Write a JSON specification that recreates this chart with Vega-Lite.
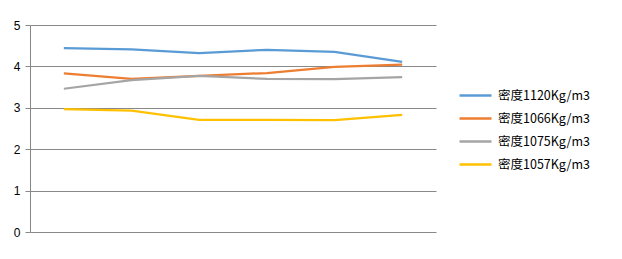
{
  "$schema": "https://vega.github.io/schema/vega-lite/v6.json",
  "autosize": {"type": "none"},
  "width": 406,
  "height": 207,
  "padding": {"left": 30, "top": 25, "right": 186, "bottom": 27},
  "background": "white",
  "config": {"view": {"stroke": null}, "font": "Liberation Sans"},
  "data": {
    "values": [
      {"p": 1, "s": "密度1120Kg/m3", "v": 4.44},
      {"p": 2, "s": "密度1120Kg/m3", "v": 4.41},
      {"p": 3, "s": "密度1120Kg/m3", "v": 4.32},
      {"p": 4, "s": "密度1120Kg/m3", "v": 4.40},
      {"p": 5, "s": "密度1120Kg/m3", "v": 4.35},
      {"p": 6, "s": "密度1120Kg/m3", "v": 4.11},
      {"p": 1, "s": "密度1066Kg/m3", "v": 3.83},
      {"p": 2, "s": "密度1066Kg/m3", "v": 3.70},
      {"p": 3, "s": "密度1066Kg/m3", "v": 3.77},
      {"p": 4, "s": "密度1066Kg/m3", "v": 3.84},
      {"p": 5, "s": "密度1066Kg/m3", "v": 3.99},
      {"p": 6, "s": "密度1066Kg/m3", "v": 4.04},
      {"p": 1, "s": "密度1075Kg/m3", "v": 3.46},
      {"p": 2, "s": "密度1075Kg/m3", "v": 3.67},
      {"p": 3, "s": "密度1075Kg/m3", "v": 3.77},
      {"p": 4, "s": "密度1075Kg/m3", "v": 3.70},
      {"p": 5, "s": "密度1075Kg/m3", "v": 3.69},
      {"p": 6, "s": "密度1075Kg/m3", "v": 3.74},
      {"p": 1, "s": "密度1057Kg/m3", "v": 2.97},
      {"p": 2, "s": "密度1057Kg/m3", "v": 2.93},
      {"p": 3, "s": "密度1057Kg/m3", "v": 2.71},
      {"p": 4, "s": "密度1057Kg/m3", "v": 2.71},
      {"p": 5, "s": "密度1057Kg/m3", "v": 2.70},
      {"p": 6, "s": "密度1057Kg/m3", "v": 2.83}
    ]
  },
  "mark": {"type": "line", "strokeWidth": 2.25},
  "encoding": {
    "x": {
      "field": "p",
      "type": "ordinal",
      "scale": {"type": "point", "padding": 0.5},
      "axis": {"labels": false, "ticks": false, "domain": false, "title": null, "grid": false}
    },
    "y": {
      "field": "v",
      "type": "quantitative",
      "scale": {"domain": [0, 5], "nice": false},
      "axis": {
        "title": null,
        "values": [0, 1, 2, 3, 4, 5],
        "labelOverlap": false,
        "domain": true,
        "domainColor": "#888888",
        "tickColor": "#888888",
        "tickSize": 5,
        "gridColor": "#888888",
        "gridOpacity": 1,
        "labelFontSize": 12,
        "labelColor": "#000000",
        "labelPadding": 5,
        "labelFont": "Liberation Sans"
      }
    },
    "color": {
      "field": "s",
      "type": "nominal",
      "scale": {
        "domain": ["密度1120Kg/m3", "密度1066Kg/m3", "密度1075Kg/m3", "密度1057Kg/m3"],
        "range": ["#5B9BD5", "#ED7D31", "#A5A5A5", "#FFC000"]
      },
      "legend": {
        "title": null,
        "orient": "none",
        "legendX": 436,
        "legendY": 61,
        "symbolType": "M-2,0H2",
        "symbolSize": 256,
        "symbolStrokeWidth": 2.5,
        "labelFontSize": 12.5,
        "labelColor": "#000000",
        "labelFont": "Noto Sans CJK SC",
        "rowPadding": 7,
        "labelOffset": 13
      }
    }
  }
}
